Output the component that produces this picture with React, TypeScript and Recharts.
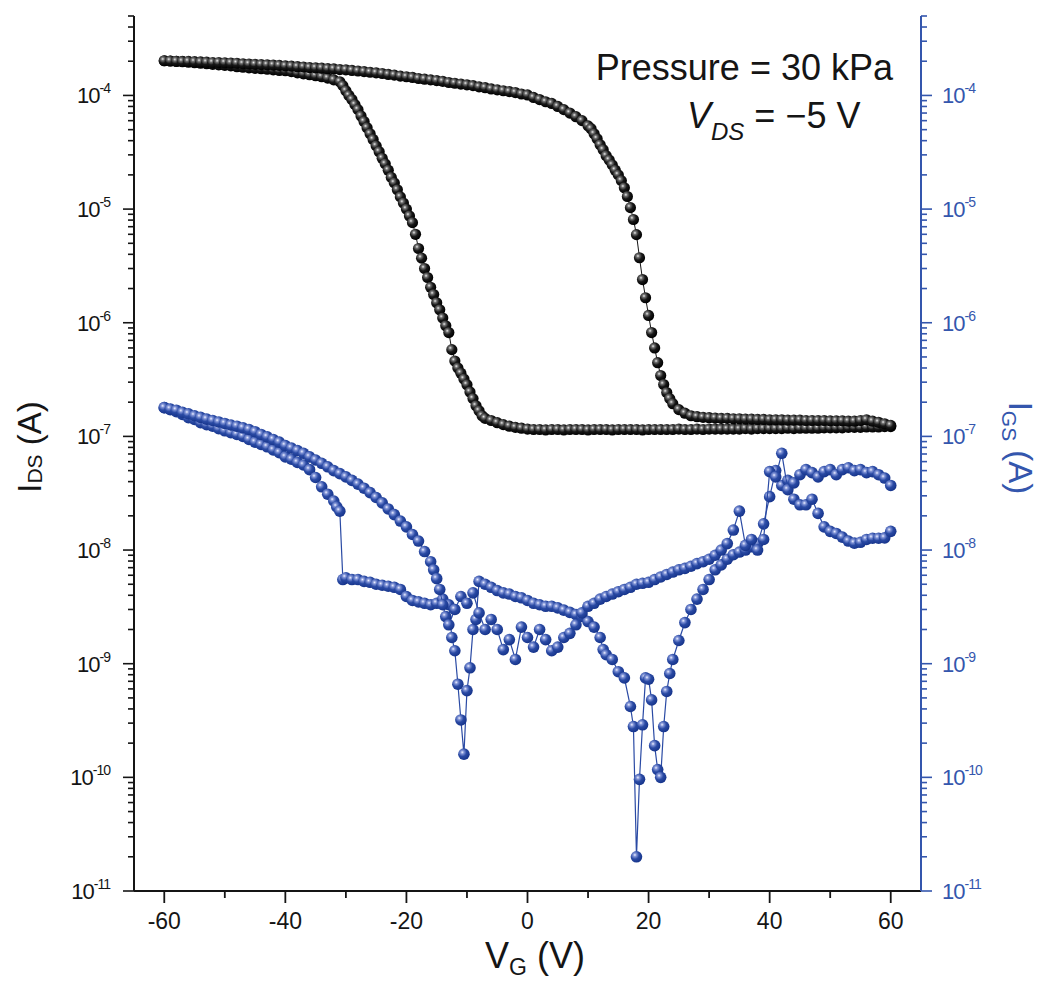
import React from 'react';
import { ScatterChart, Scatter, XAxis, YAxis } from 'recharts';

const FONT = '"Liberation Sans", Arial, Helvetica, sans-serif';
const INK = '#151515';
const BLUE = '#3456ad';

// I_DS (A) vs V_G (V), branch that switches on near -30 V
const idsAV = [
  -60, -59, -58, -57, -56, -55, -54, -53, -52, -51, -50, -49, -48, -47, -46, -45, -44, -43, -42, -41,
  -40, -39, -38, -37, -36, -35, -34, -33, -32, -31,
  -30.5, -30, -29.5, -29, -28.5, -28, -27.5, -27, -26.5, -26, -25.5, -25, -24.5, -24, -23.5, -23,
  -22.5, -22, -21.5, -21, -20.5, -20, -19.5, -19, -18.5, -18, -17.5, -17, -16.5, -16, -15.5, -15,
  -14.5, -14, -13.5, -13, -12.5, -12, -11.5, -11, -10.5, -10, -9.5, -9, -8.5, -8, -7.5, -7,
  -6, -5, -4, -3, -2, -1, 0, 1, 2, 3, 4, 5, 6, 7, 8, 9, 10, 11, 12, 13, 14, 15, 16, 17, 18, 19, 20,
  21, 22, 23, 24, 25, 26, 27, 28, 29, 30, 31, 32, 33, 34, 35, 36, 37, 38, 39, 40,
  41, 42, 43, 44, 45, 46, 47, 48, 49, 50, 51, 52, 53, 54, 55, 56, 57, 58, 59, 60,
];
const idsAI = [
  2.02e-4, 2.01e-4, 1.99e-4, 1.98e-4, 1.96e-4, 1.94e-4, 1.92e-4, 1.9e-4, 1.88e-4, 1.86e-4,
  1.84e-4, 1.82e-4, 1.79e-4, 1.77e-4, 1.75e-4, 1.73e-4, 1.72e-4, 1.7e-4, 1.68e-4, 1.66e-4,
  1.65e-4, 1.62e-4, 1.58e-4, 1.55e-4, 1.52e-4, 1.49e-4, 1.46e-4, 1.42e-4, 1.37e-4, 1.32e-4,
  1.22e-4, 1.1e-4, 1.0e-4, 9.2e-5, 8.3e-5, 7.5e-5, 6.6e-5, 5.9e-5, 5.2e-5, 4.6e-5, 4.1e-5, 3.6e-5,
  3.2e-5, 2.8e-5, 2.5e-5, 2.2e-5, 1.9e-5, 1.7e-5, 1.48e-5, 1.28e-5, 1.13e-5, 1.0e-5, 8.7e-6, 7.6e-6,
  6.0e-6, 4.5e-6, 3.7e-6, 3.0e-6, 2.5e-6, 2.05e-6, 1.77e-6, 1.5e-6, 1.3e-6, 1.1e-6, 9.4e-7, 8.2e-7,
  5.8e-7, 4.6e-7, 4.0e-7, 3.6e-7, 3.2e-7, 2.85e-7, 2.46e-7, 2.15e-7, 1.86e-7, 1.68e-7, 1.52e-7, 1.44e-7,
  1.38e-7, 1.32e-7, 1.27e-7, 1.23e-7, 1.2e-7, 1.18e-7, 1.16e-7,
  1.15e-7, 1.15e-7, 1.14e-7, 1.15e-7, 1.15e-7, 1.14e-7, 1.15e-7, 1.15e-7, 1.15e-7, 1.14e-7,
  1.15e-7, 1.15e-7, 1.15e-7, 1.14e-7, 1.15e-7, 1.15e-7, 1.15e-7, 1.15e-7, 1.14e-7, 1.15e-7,
  1.15e-7, 1.15e-7, 1.15e-7, 1.15e-7, 1.16e-7, 1.15e-7, 1.15e-7, 1.16e-7, 1.15e-7, 1.16e-7,
  1.16e-7, 1.16e-7, 1.16e-7, 1.16e-7, 1.16e-7, 1.17e-7, 1.16e-7, 1.17e-7, 1.17e-7, 1.17e-7,
  1.17e-7, 1.17e-7, 1.18e-7, 1.17e-7, 1.18e-7, 1.18e-7, 1.18e-7, 1.18e-7, 1.19e-7, 1.19e-7,
  1.19e-7, 1.19e-7, 1.2e-7, 1.2e-7, 1.2e-7, 1.21e-7, 1.21e-7, 1.21e-7, 1.22e-7, 1.22e-7,
];

// I_DS (A) vs V_G (V), branch that switches off near +20 V
const idsBV = [
  -60, -59, -58, -57, -56, -55, -54, -53, -52, -51, -50, -49, -48, -47, -46, -45, -44, -43, -42, -41,
  -40, -39, -38, -37, -36, -35, -34, -33, -32, -31, -30, -29, -28, -27, -26, -25, -24, -23, -22, -21,
  -20, -19, -18, -17, -16, -15, -14, -13, -12, -11, -10, -9, -8, -7, -6, -5, -4, -3, -2, -1,
  0, 1, 2, 3, 4, 5, 6, 7, 8, 9, 10,
  10.5, 11, 11.5, 12, 12.5, 13, 13.5, 14, 14.5, 15, 15.5, 16, 16.5, 17, 17.5, 18, 18.5, 19, 19.5, 20,
  20.5, 21, 21.5, 22, 22.5, 23, 23.5, 24,
  25, 26, 27, 28, 29, 30, 31, 32, 33, 34, 35, 36, 37, 38, 39, 40, 41, 42,
  43, 44, 45, 46, 47, 48, 49, 50, 51, 52, 53, 54, 55, 56, 57, 58, 59, 60,
];
const idsBI = [
  2.02e-4, 2.01e-4, 2.0e-4, 1.99e-4, 1.99e-4, 1.98e-4, 1.97e-4, 1.96e-4, 1.95e-4, 1.95e-4,
  1.94e-4, 1.93e-4, 1.92e-4, 1.9e-4, 1.89e-4, 1.88e-4, 1.87e-4, 1.86e-4, 1.85e-4, 1.84e-4,
  1.82e-4, 1.81e-4, 1.79e-4, 1.78e-4, 1.76e-4, 1.75e-4, 1.74e-4, 1.72e-4, 1.71e-4, 1.69e-4,
  1.68e-4, 1.66e-4, 1.64e-4, 1.62e-4, 1.6e-4, 1.58e-4, 1.56e-4, 1.53e-4, 1.51e-4, 1.48e-4,
  1.46e-4, 1.44e-4, 1.41e-4, 1.39e-4, 1.37e-4, 1.35e-4, 1.33e-4, 1.3e-4, 1.28e-4, 1.26e-4,
  1.24e-4, 1.22e-4, 1.19e-4, 1.17e-4, 1.14e-4, 1.12e-4, 1.1e-4, 1.08e-4, 1.06e-4, 1.03e-4,
  1.01e-4, 9.6e-5, 9.2e-5, 8.8e-5, 8.5e-5, 8.0e-5, 7.5e-5, 7.0e-5, 6.5e-5, 6.0e-5, 5.4e-5,
  5.1e-5, 4.6e-5, 4.16e-5, 3.68e-5, 3.33e-5, 2.95e-5, 2.7e-5, 2.45e-5, 2.2e-5, 2.0e-5,
  1.78e-5, 1.54e-5, 1.29e-5, 1.03e-5, 8.1e-6, 5.96e-6, 3.73e-6, 2.4e-6, 1.66e-6, 1.16e-6,
  8.2e-7, 6.0e-7, 4.45e-7, 3.43e-7, 2.86e-7, 2.43e-7, 2.15e-7, 1.94e-7,
  1.72e-7, 1.6e-7, 1.52e-7, 1.49e-7, 1.47e-7, 1.46e-7, 1.45e-7, 1.44e-7, 1.44e-7, 1.43e-7,
  1.43e-7, 1.42e-7, 1.42e-7, 1.41e-7, 1.41e-7, 1.4e-7, 1.4e-7, 1.4e-7,
  1.39e-7, 1.39e-7, 1.39e-7, 1.38e-7, 1.38e-7, 1.38e-7, 1.38e-7, 1.37e-7, 1.37e-7, 1.37e-7,
  1.36e-7, 1.36e-7, 1.38e-7, 1.4e-7, 1.36e-7, 1.33e-7, 1.29e-7, 1.25e-7,
];

// I_GS (A) vs V_G (V), branch with the step at -31 V and the dips near -11 V and +18 V
const igsAV = [
  -60, -59, -58, -57, -56, -55, -54, -53, -52, -51, -50, -49, -48, -47, -46, -45, -44, -43, -42, -41,
  -40, -39, -38, -37, -36, -35, -34, -33, -32, -31.5, -31, -30.5,
  -30, -29, -28, -27, -26, -25, -24, -23, -22, -21, -20, -19, -18, -17, -16, -15, -14, -13,
  -12.5, -12, -11.5, -11, -10.5, -10, -9.5, -9, -8.5, -8,
  -7, -6, -5, -4, -3, -2, -1, 0, 1, 2, 3, 4, 5, 6, 7, 8, 9, 10, 11, 12,
  12.5, 13, 14, 15, 16, 17, 17.5, 18, 18.5, 19, 19.5, 20, 20.5, 21, 21.5, 22, 22.5, 23, 23.5, 24,
  25, 26, 27, 28, 29, 30, 31, 32, 33, 34, 35, 36, 37, 38, 39, 40, 41, 42,
  43, 44, 45, 46, 47, 48, 49, 50, 51, 52, 53, 54, 55, 56, 57, 58, 59, 60,
];
const igsAI = [
  1.79e-7, 1.72e-7, 1.65e-7, 1.56e-7, 1.46e-7, 1.41e-7, 1.32e-7, 1.27e-7, 1.23e-7, 1.17e-7,
  1.12e-7, 1.08e-7, 1.04e-7, 1.0e-7, 9.4e-8, 8.9e-8, 8.5e-8, 8.1e-8, 7.6e-8, 7.2e-8,
  6.6e-8, 6.3e-8, 5.9e-8, 5.6e-8, 5.1e-8, 4.35e-8, 3.6e-8, 3.1e-8, 2.7e-8, 2.4e-8, 2.2e-8, 5.5e-9,
  5.7e-9, 5.5e-9, 5.5e-9, 5.3e-9, 5.2e-9, 5.0e-9, 4.9e-9, 4.8e-9, 4.7e-9, 4.5e-9,
  3.9e-9, 3.6e-9, 3.5e-9, 3.4e-9, 3.3e-9, 3.4e-9, 3.7e-9, 3.3e-9,
  1.7e-9, 1.3e-9, 6.6e-10, 3.2e-10, 1.6e-10, 5.8e-10, 9.2e-10, 2.0e-9, 2.45e-9, 5.3e-9,
  5.0e-9, 4.7e-9, 4.4e-9, 4.2e-9, 4.1e-9, 3.9e-9, 3.8e-9, 3.6e-9, 3.4e-9, 3.3e-9,
  3.2e-9, 3.2e-9, 3.1e-9, 2.96e-9, 2.83e-9, 2.7e-9, 2.6e-9, 2.35e-9, 2.1e-9, 1.7e-9,
  1.33e-9, 1.2e-9, 1.09e-9, 8.5e-10, 7.5e-10, 4.2e-10, 2.8e-10, 2.0e-11, 9.6e-11, 2.9e-10,
  7.5e-10, 7.3e-10, 4.8e-10, 1.9e-10, 1.17e-10, 1.0e-10, 2.8e-10, 5.7e-10, 8.2e-10, 1.09e-9,
  1.6e-9, 2.3e-9, 3.0e-9, 3.7e-9, 4.5e-9, 5.5e-9, 6.7e-9, 7.4e-9, 8.3e-9, 9.1e-9,
  9.6e-9, 1.0e-8, 1.07e-8, 1.14e-8, 1.7e-8, 2.95e-8, 5.0e-8, 3.7e-8,
  4.1e-8, 2.8e-8, 2.5e-8, 2.5e-8, 2.8e-8, 2.1e-8, 1.6e-8, 1.46e-8, 1.4e-8, 1.3e-8,
  1.2e-8, 1.15e-8, 1.17e-8, 1.24e-8, 1.27e-8, 1.27e-8, 1.28e-8, 1.46e-8,
];

// I_GS (A) vs V_G (V), the other branch (upper arc on the left, upper plateau on the right)
const igsBV = [
  -60, -59, -58, -57, -56, -55, -54, -53, -52, -51, -50, -49, -48, -47, -46, -45, -44, -43, -42, -41,
  -40, -39, -38, -37, -36, -35, -34, -33, -32, -31, -30, -29, -28, -27, -26, -25, -24, -23, -22, -21,
  -20, -19, -18, -17, -16, -15.5, -15, -14.5, -14, -13.5, -13,
  -12, -11, -10, -9, -8, -7, -6, -5, -4, -3, -2, -1, 0, 1, 2, 3, 4, 5, 6, 7, 8, 9, 10,
  11, 12, 13, 14, 15, 16, 17, 18, 19, 20, 21, 22, 23, 24, 25, 26, 27, 28, 29, 30,
  31, 32, 33, 34, 35, 36, 37, 38, 39, 40, 41, 42, 43, 44, 45,
  46, 47, 48, 49, 50, 51, 52, 53, 54, 55, 56, 57, 58, 59, 60,
];
const igsBI = [
  1.79e-7, 1.74e-7, 1.7e-7, 1.63e-7, 1.58e-7, 1.52e-7, 1.47e-7, 1.42e-7, 1.38e-7, 1.34e-7,
  1.3e-7, 1.26e-7, 1.23e-7, 1.19e-7, 1.15e-7, 1.1e-7, 1.04e-7, 9.9e-8, 9.4e-8, 8.9e-8,
  8.3e-8, 7.9e-8, 7.5e-8, 7.1e-8, 6.6e-8, 6.2e-8, 5.8e-8, 5.4e-8, 5.0e-8, 4.7e-8,
  4.4e-8, 4.1e-8, 3.8e-8, 3.5e-8, 3.2e-8, 2.9e-8, 2.6e-8, 2.3e-8, 2.05e-8, 1.8e-8,
  1.6e-8, 1.37e-8, 1.2e-8, 9.7e-9, 7.9e-9, 6.7e-9, 5.6e-9, 4.5e-9, 3.3e-9, 2.6e-9, 2.2e-9,
  3.0e-9, 3.9e-9, 3.4e-9, 4.2e-9, 2.8e-9, 2.0e-9, 2.45e-9, 2.0e-9, 1.33e-9, 1.63e-9,
  1.09e-9, 2.1e-9, 1.7e-9, 1.4e-9, 2.0e-9, 1.63e-9, 1.3e-9, 1.4e-9, 1.7e-9, 1.85e-9,
  2.2e-9, 2.8e-9, 3.2e-9,
  3.4e-9, 3.7e-9, 3.9e-9, 4.1e-9, 4.3e-9, 4.5e-9, 4.7e-9, 5.0e-9, 5.1e-9, 5.2e-9,
  5.5e-9, 5.8e-9, 6.1e-9, 6.4e-9, 6.7e-9, 6.9e-9, 7.2e-9, 7.6e-9, 7.9e-9, 8.3e-9,
  9.0e-9, 1.0e-8, 1.14e-8, 1.5e-8, 2.2e-8, 1.1e-8, 1.24e-8, 1.0e-8, 1.24e-8, 4.9e-8,
  4.4e-8, 7.1e-8, 3.4e-8, 3.9e-8, 4.6e-8,
  5.1e-8, 4.8e-8, 4.4e-8, 4.9e-8, 5.1e-8, 4.6e-8, 5.1e-8, 5.3e-8, 5.0e-8, 5.1e-8,
  4.8e-8, 4.9e-8, 4.6e-8, 4.3e-8, 3.7e-8,
];

const vTicks = [-60, -50, -40, -30, -20, -10, 0, 10, 20, 30, 40, 50, 60];
const decades = [-11, -10, -9, -8, -7, -6, -5, -4];
const mantissas = [1, 2, 3, 4, 5, 6, 7, 8, 9];
const currentTicks = decades
  .flatMap((d) => mantissas.map((m) => m * Math.pow(10, d)))
  .filter((v) => v <= 5.0001e-4);

const toPoints = (vs: number[], is: number[]) => vs.map((v, k) => ({ v, i: is[k] }));

const isDecade = (v: number) => Math.abs(Math.log10(v) - Math.round(Math.log10(v))) < 1e-6;

const BottomTick = ({ x, y, payload }: any) => {
  const major = payload.value % 20 === 0;
  return (
    <g>
      <line x1={x} x2={x} y1={y} y2={y + (major ? 12 : 7)} stroke={INK} strokeWidth={1.8} />
      {major && (
        <text x={x} y={y + 38} textAnchor="middle" fontFamily={FONT} fontSize={23} fill={INK}>
          {payload.value}
        </text>
      )}
    </g>
  );
};

const TopTick = ({ x, y, payload }: any) => {
  const major = payload.value % 20 === 0;
  return <line x1={x} x2={x} y1={y} y2={y + (major ? 12 : 7)} stroke={INK} strokeWidth={1.8} />;
};

const LeftTick = ({ x, y, payload }: any) => {
  const major = isDecade(payload.value);
  return (
    <g>
      <line x1={x} x2={x - (major ? 11 : 6)} y1={y} y2={y} stroke={INK} strokeWidth={1.6} />
      {major && (
        <text x={x - 24} y={y + 8} textAnchor="end" fontFamily={FONT} fontSize={22} fill={INK} letterSpacing={-1}>
          10
          <tspan dy={-10} fontSize={14}>
            {Math.round(Math.log10(payload.value))}
          </tspan>
        </text>
      )}
    </g>
  );
};

const RightTick = ({ x, y, payload }: any) => {
  const major = isDecade(payload.value);
  return (
    <g>
      <line x1={x} x2={x + (major ? 11 : 6)} y1={y} y2={y} stroke={BLUE} strokeWidth={1.6} />
      {major && (
        <text x={x + 21} y={y + 8} textAnchor="start" fontFamily={FONT} fontSize={22} fill={BLUE} letterSpacing={-1}>
          10
          <tspan dy={-10} fontSize={14}>
            {Math.round(Math.log10(payload.value))}
          </tspan>
        </text>
      )}
    </g>
  );
};

const ball = (id: string, r: number) => (p: any) => <circle cx={p.cx} cy={p.cy} r={r} fill={`url(#${id})`} />;

export default function App() {
  return (
    <div style={{ position: 'absolute', left: 0, top: 0, width: 1040, height: 983, background: '#fff' }}>
      <ScatterChart width={1040} height={983} margin={{ top: 16, right: 0, bottom: 0, left: 0 }}>
        <defs>
          <radialGradient id="ballBlack" cx="0.36" cy="0.34" r="0.66">
            <stop offset="0" stopColor="#ececec" />
            <stop offset="0.22" stopColor="#707070" />
            <stop offset="0.55" stopColor="#181818" />
            <stop offset="1" stopColor="#000" />
          </radialGradient>
          <radialGradient id="ballBlue" cx="0.36" cy="0.34" r="0.66">
            <stop offset="0" stopColor="#eef1ff" />
            <stop offset="0.22" stopColor="#8093d6" />
            <stop offset="0.55" stopColor="#2a4aa4" />
            <stop offset="1" stopColor="#17358c" />
          </radialGradient>
        </defs>
        <XAxis
          xAxisId="bottom"
          dataKey="v"
          type="number"
          domain={[-65, 65]}
          allowDataOverflow
          ticks={vTicks}
          interval={0}
          height={92}
          axisLine={{ stroke: INK, strokeWidth: 2 }}
          tickLine={false}
          tickSize={0}
          tickMargin={0}
          tick={<BottomTick />}
        />
        <XAxis
          xAxisId="top"
          orientation="top"
          dataKey="v"
          type="number"
          domain={[-65, 65]}
          allowDataOverflow
          ticks={vTicks}
          interval={0}
          height={0}
          axisLine={{ stroke: INK, strokeWidth: 2 }}
          tickLine={false}
          tickSize={0}
          tickMargin={0}
          tick={<TopTick />}
        />
        <YAxis
          yAxisId="left"
          dataKey="i"
          type="number"
          scale="log"
          domain={[1e-11, 5e-4]}
          allowDataOverflow
          ticks={currentTicks}
          interval={0}
          width={134}
          axisLine={{ stroke: INK, strokeWidth: 2 }}
          tickLine={false}
          tickSize={0}
          tickMargin={0}
          tick={<LeftTick />}
        />
        <YAxis
          yAxisId="right"
          orientation="right"
          dataKey="i"
          type="number"
          scale="log"
          domain={[1e-11, 5e-4]}
          allowDataOverflow
          ticks={currentTicks}
          interval={0}
          width={119}
          axisLine={{ stroke: BLUE, strokeWidth: 2 }}
          tickLine={false}
          tickSize={0}
          tickMargin={0}
          tick={<RightTick />}
        />
        <Scatter
          data={toPoints(igsAV, igsAI)}
          xAxisId="bottom"
          yAxisId="right"
          line={{ stroke: '#2a4aa4', strokeWidth: 1.2 }}
          shape={ball('ballBlue', 5.8)}
          isAnimationActive={false}
        />
        <Scatter
          data={toPoints(igsBV, igsBI)}
          xAxisId="bottom"
          yAxisId="right"
          line={{ stroke: '#2a4aa4', strokeWidth: 1.2 }}
          shape={ball('ballBlue', 5.8)}
          isAnimationActive={false}
        />
        <Scatter
          data={toPoints(idsAV, idsAI)}
          xAxisId="bottom"
          yAxisId="left"
          line={{ stroke: INK, strokeWidth: 1 }}
          shape={ball('ballBlack', 5.6)}
          isAnimationActive={false}
        />
        <Scatter
          data={toPoints(idsBV, idsBI)}
          xAxisId="bottom"
          yAxisId="left"
          line={{ stroke: INK, strokeWidth: 1 }}
          shape={ball('ballBlack', 5.6)}
          isAnimationActive={false}
        />
      </ScatterChart>
      <svg
        width={1040}
        height={983}
        style={{ position: 'absolute', left: 0, top: 0, pointerEvents: 'none' }}
        fontFamily={FONT}
      >
        <text transform="translate(41,447) rotate(-90)" textAnchor="middle" fontSize={33} fill={INK}>
          I<tspan fontSize={21} dy={1}>DS</tspan>
          <tspan dy={-1}>{'\u00a0(A)'}</tspan>
        </text>
        <text transform="translate(1009,448) rotate(90)" textAnchor="middle" fontSize={33} fill={BLUE}>
          I<tspan fontSize={21} dy={7}>GS</tspan>
          <tspan dy={-7}>{'\u00a0(A)'}</tspan>
        </text>
        <text x={535} y={968} textAnchor="middle" fontSize={36} fill={INK}>
          V<tspan fontSize={23} dy={7}>G</tspan>
          <tspan dy={-7}>{'\u00a0(V)'}</tspan>
        </text>
        <text x={893} y={80} textAnchor="end" fontSize={36} fill={INK}>
          Pressure = 30 kPa
        </text>
        <text x={687} y={128} fontSize={36} fill={INK}>
          <tspan fontStyle="italic">V</tspan>
          <tspan fontStyle="italic" fontSize={24} dy={12}>DS</tspan>
          <tspan dy={-12}>{'\u00a0= \u22125 V'}</tspan>
        </text>
      </svg>
    </div>
  );
}
